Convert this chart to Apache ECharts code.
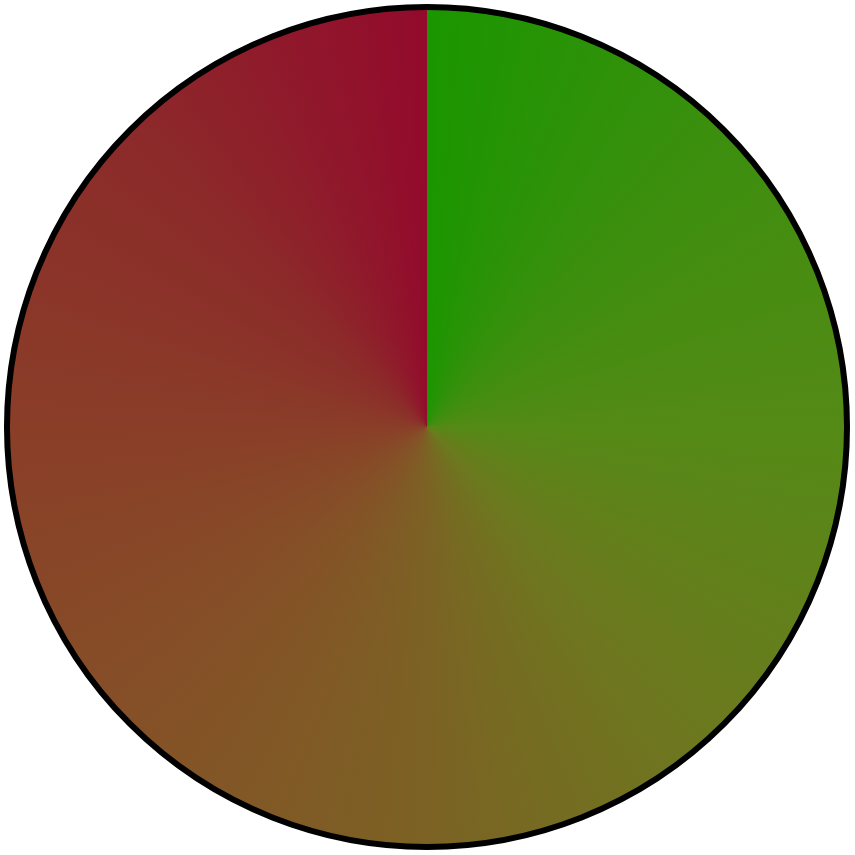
<!DOCTYPE html>
<html>
<head>
<meta charset="utf-8">
<script src="https://cdn.jsdelivr.net/npm/echarts@6/dist/echarts.min.js"></script>
<style>
html, body { margin: 0; padding: 0; background: #fff; }
#main { width: 855px; height: 855px; }
</style>
</head>
<body>
<div id="main"></div>
<script>
// one full slice
var sliceNames = ['total'];
var sliceValues = [100];
// colours read round the circle, clockwise from the top
var stopOffsets = [0, 0.125, 0.25, 0.375, 0.5, 0.625, 0.75, 0.875, 1];
var stopColors = ['#1a9600', '#3c8f0e', '#548a16', '#6b7a1e', '#7c6224', '#855027', '#8a3e28', '#8c2a2a', '#930a2c'];

var W = 855, CX = 427, CY = 427;

// conic gradient painted on a canvas, used as the pie fill
function makeConicFill() {
	var c = document.createElement('canvas');
	c.width = W;
	c.height = W;
	var ctx = c.getContext('2d');
	var g = ctx.createConicGradient(-Math.PI / 2, CX, CY);
	for (var i = 0; i < stopOffsets.length; i++) {
		g.addColorStop(stopOffsets[i], stopColors[i]);
	}
	ctx.fillStyle = g;
	ctx.fillRect(0, 0, W, W);
	return c;
}

var myChart = echarts.init(document.getElementById('main'));
var fill = makeConicFill();

var option = {
	animation: false,
	series: [{
		type: 'pie',
		center: [CX, CY],
		radius: [0, 420],
		startAngle: 90,
		clockwise: true,
		label: { show: false },
		labelLine: { show: false },
		emphasis: { disabled: true, scale: false },
		silent: true,
		itemStyle: {
			color: { image: fill, repeat: 'no-repeat' },
			borderColor: '#000',
			borderWidth: 6
		},
		data: sliceNames.map(function (n, i) {
			return { name: n, value: sliceValues[i] };
		})
	}]
};
myChart.setOption(option);
</script>
</body>
</html>
